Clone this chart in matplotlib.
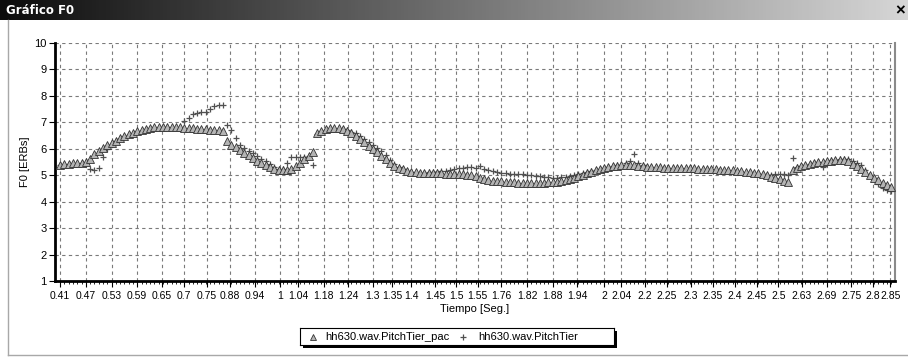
import numpy as np
import matplotlib
matplotlib.use("Agg")
import matplotlib.pyplot as plt
from matplotlib.colors import LinearSegmentedColormap
from matplotlib.lines import Line2D
from matplotlib.patches import Rectangle

plt.rcParams['font.family'] = ['Liberation Sans', 'DejaVu Sans']

# F0 values (ERBs) per pitch point, stylized tier (triangles)
f0_pac = [
    5.40, 5.42, 5.44, 5.45, 5.46, 5.47, 5.49, 5.60, 5.80, 5.92,
    6.03, 6.13, 6.23, 6.31, 6.40, 6.47, 6.54, 6.60, 6.66, 6.71,
    6.75, 6.78, 6.81, 6.83, 6.84, 6.84, 6.83, 6.82, 6.81, 6.80,
    6.79, 6.78, 6.76, 6.75, 6.73, 6.72, 6.71, 6.70, 6.68,
    6.30, 6.15, 6.05, 5.95, 5.85, 5.75, 5.65, 5.55, 5.47, 5.38,
    5.30, 5.25, 5.21, 5.20, 5.20, 5.24, 5.33, 5.46, 5.60, 5.72,
    5.86,
    6.60, 6.68, 6.74, 6.77, 6.78, 6.77, 6.74, 6.69, 6.60, 6.50,
    6.36, 6.24, 6.12, 6.00, 5.86, 5.74, 5.60, 5.47, 5.36, 5.28,
    5.22, 5.17, 5.13, 5.11, 5.10, 5.09, 5.08, 5.08, 5.08, 5.07,
    5.06, 5.05, 5.05, 5.04, 5.03, 5.01, 5.00, 4.98,
    4.88, 4.85, 4.82, 4.80, 4.78, 4.77, 4.75, 4.74, 4.73, 4.72,
    4.71, 4.71, 4.70, 4.70, 4.71, 4.72, 4.73, 4.74, 4.76, 4.78,
    4.81, 4.85, 4.90, 4.96, 5.02, 5.08, 5.14, 5.18, 5.22, 5.26,
    5.30, 5.33, 5.36, 5.38, 5.40, 5.40, 5.38, 5.36, 5.34, 5.32,
    5.31, 5.30, 5.30, 5.29, 5.29, 5.28, 5.28, 5.27, 5.27, 5.26,
    5.26, 5.25, 5.25, 5.24, 5.23, 5.22, 5.21, 5.20, 5.19, 5.18,
    5.17, 5.16, 5.14, 5.12, 5.10, 5.07, 5.04, 5.00, 4.95, 4.90,
    4.85, 4.80, 4.76,
    5.20, 5.28, 5.34, 5.39, 5.43, 5.46, 5.49, 5.51, 5.53, 5.55,
    5.56, 5.57, 5.56, 5.52, 5.44, 5.34, 5.23, 5.12, 5.01, 4.91,
    4.81, 4.72, 4.63, 4.55,
]

# F0 values (ERBs) per pitch point, original tier (plus signs)
f0_orig = [
    5.38, 5.40, 5.42, 5.43, 5.44, 5.45, 5.46, 5.22, 5.20, 5.27,
    5.70, 6.00, 6.18, 6.28, 6.36, 6.44, 6.51, 6.57, 6.63, 6.68,
    6.72, 6.75, 6.78, 6.80, 6.81, 6.81, 6.80, 6.79, 6.78, 7.05,
    7.15, 7.32, 7.36, 7.38, 7.40, 7.50, 7.62, 7.65, 7.66,
    6.90, 6.71, 6.41, 6.14, 6.02, 5.92, 5.84, 5.72, 5.62, 5.52,
    5.42, 5.32, 5.25, 5.22, 5.48, 5.68, 5.70, 5.70, 5.70, 5.72,
    5.40,
    6.55, 6.63, 6.70, 6.74, 6.75, 6.75, 6.73, 6.70, 6.65, 6.58,
    6.48, 6.38, 6.27, 6.15, 6.03, 5.90, 5.75, 5.58, 5.43, 5.30,
    5.22, 5.16, 5.12, 5.10, 5.10, 5.10, 5.11, 5.12, 5.13, 5.15,
    5.17, 5.20, 5.23, 5.26, 5.28, 5.30, 5.30, 5.28,
    5.35, 5.25, 5.20, 5.15, 5.12, 5.10, 5.08, 5.06, 5.05, 5.04,
    5.03, 5.02, 5.00, 4.98, 4.96, 4.94, 4.92, 4.90, 4.90, 4.92,
    4.95, 4.98, 5.02, 5.05, 5.08, 5.12, 5.16, 5.20, 5.24, 5.28,
    5.31, 5.34, 5.37, 5.40, 5.45, 5.55, 5.80, 5.45, 5.38, 5.30,
    5.27, 5.26, 5.26, 5.25, 5.25, 5.24, 5.24, 5.23, 5.23, 5.22,
    5.22, 5.21, 5.21, 5.20, 5.19, 5.18, 5.17, 5.16, 5.15, 5.14,
    5.13, 5.12, 5.10, 5.08, 5.06, 5.04, 5.02, 5.00, 5.02, 5.05,
    5.06, 5.05, 5.00,
    5.65, 5.30, 5.35, 5.40, 5.44, 5.47, 5.50, 5.31, 5.54, 5.56,
    5.58, 5.60, 5.62, 5.60, 5.55, 5.48, 5.38, 5.18, 5.02, 4.85,
    4.65, 4.52, 4.45, 4.40,
]

# time labels shown under the axis, and where along the point sequence each sits
time_labels = ['0.41', '0.47', '0.53', '0.59', '0.65', '0.7', '0.75', '0.88', '0.94',
               '1', '1.04', '1.18', '1.24', '1.3', '1.35', '1.4', '1.45', '1.5', '1.55',
               '1.76', '1.82', '1.88', '1.94', '2', '2.04', '2.2', '2.25', '2.3', '2.35',
               '2.4', '2.45', '2.5', '2.63', '2.69', '2.75', '2.8', '2.85']
label_points = [0, 6, 12, 18, 23.7, 28.8, 34.2, 39.7, 45.5, 51.4, 55.5, 61.5, 67.3,
                73, 77.5, 82, 87.5, 92.5, 97.5, 103, 109, 115, 120.7, 127, 131,
                136.5, 141.7, 147.2, 152.3, 157.5, 162.6, 167.7, 173.2, 179, 184.7,
                189.7, 193.8]

series_names = ['hh630.wav.PitchTier_pac', 'hh630.wav.PitchTier']

W, H = 908, 357
fig = plt.figure(figsize=(W / 100, H / 100), dpi=100)

# window title bar
bar = fig.add_axes([0, 1 - 20 / H, 1, 20 / H])
cmap = LinearSegmentedColormap.from_list('bar', ['#0c0c0c', '#d6d6d6'])
bar.imshow(np.linspace(0, 1, 256).reshape(1, -1), aspect='auto', cmap=cmap,
           extent=[0, 1, 0, 1])
bar.set_xlim(0, 1)
bar.set_ylim(0, 1)
bar.axis('off')
bar.text(6 / W, 0.5, 'Gráfico F0', color='white', fontweight='bold', fontsize=8.5,
         va='center', ha='left', family=['DejaVu Sans'])
bar.text(1 - 8 / W, 0.45, '×', color='black', fontweight='bold', fontsize=12,
         va='center', ha='center')

# window frame lines
fig.add_artist(Line2D([8 / W, 8 / W], [1 - 355 / H, 1 - 20 / H], color='#a8a8a8', lw=1))
fig.add_artist(Line2D([8 / W, 1], [1 - 355 / H, 1 - 355 / H], color='#a8a8a8', lw=1))

# plot area
ax = fig.add_axes([55 / W, 1 - 281 / H, 840 / W, 238 / H])
x = np.arange(len(f0_pac))
ax.plot(x, f0_orig, linestyle='none', marker='+', markersize=5, markeredgewidth=0.9,
        color='#505050', zorder=3)
ax.plot(x, f0_pac, linestyle='none', marker='^', markersize=5.5, markerfacecolor='#b4b4b4',
        markeredgecolor='#333333', markeredgewidth=0.6, zorder=4)

ax.set_xlim(-1.2, len(f0_pac) - 0.1)
ax.set_ylim(1, 10)
ax.set_yticks(range(1, 11))
ax.set_xticks(label_points)
ax.set_xticklabels(time_labels)
ax.set_xticks(x, minor=True)
ax.tick_params(axis='both', labelsize=8, colors='black', length=4, width=0.8, pad=2)
ax.tick_params(axis='x', which='minor', length=2, width=0.6)
ax.tick_params(axis='x', which='major', length=4, pad=3, labelsize=7.5)

ax.grid(True, which='major', color='#7a7a7a', linestyle=(0, (3, 3)), linewidth=0.8)
ax.set_axisbelow(True)
ax.spines['left'].set_linewidth(2)
ax.spines['bottom'].set_linewidth(2)
ax.spines['top'].set_visible(False)
ax.spines['right'].set_color('#8a8a8a')
ax.spines['right'].set_linewidth(1.5)
ax.set_ylabel('F0 [ERBs]', fontsize=8)
ax.yaxis.set_label_coords(-25 / 840, 0.5)
ax.set_xlabel('Tiempo [Seg.]', fontsize=8, labelpad=2)

# legend box with a solid shadow, as drawn by the chart control
lx, ly, lw, lh = 300, 328, 314, 17
fig.add_artist(Rectangle(((lx + 3) / W, 1 - (ly + lh + 3) / H), lw / W, lh / H,
                         facecolor='black', edgecolor='none', transform=fig.transFigure,
                         zorder=-1))
leg = fig.add_axes([lx / W, 1 - (ly + lh) / H, lw / W, lh / H])
leg.set_zorder(2)
leg.set_facecolor('white')
leg.set_xlim(0, lw)
leg.set_ylim(0, lh)
leg.set_xticks([])
leg.set_yticks([])
for s in leg.spines.values():
    s.set_linewidth(0.8)
leg.plot([13], [8.5], linestyle='none', marker='^', markersize=4.5, markerfacecolor='#b4b4b4',
         markeredgecolor='#333333', markeredgewidth=0.6)
leg.text(25, 8.5, series_names[0], fontsize=8, va='center', ha='left')
leg.plot([163], [8.5], linestyle='none', marker='+', markersize=5, markeredgewidth=0.9,
         color='#505050')
leg.text(178, 8.5, series_names[1], fontsize=8, va='center', ha='left')

fig.savefig('out.png', dpi=100)
